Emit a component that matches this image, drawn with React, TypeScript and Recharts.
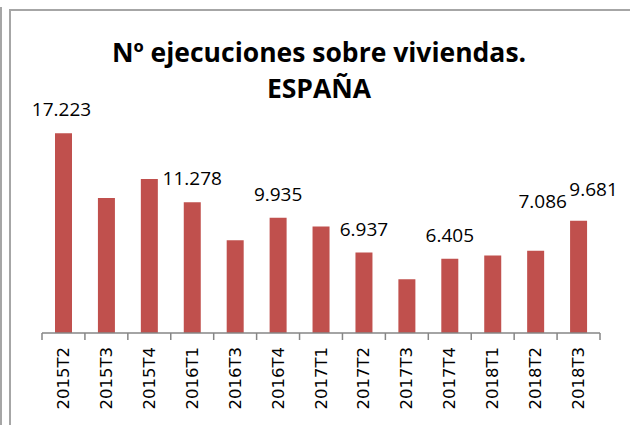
import { BarChart, Bar, XAxis, YAxis, LabelList } from "recharts";

const CATEGORIES = [
  "2015T2", "2015T3", "2015T4", "2016T1", "2016T3", "2016T4", "2017T1",
  "2017T2", "2017T3", "2017T4", "2018T1", "2018T2", "2018T3",
];
const VALUES = [17223, 11640, 13270, 11278, 8000, 9935, 9190, 6937, 4630, 6405, 6690, 7086, 9681];
// only some bars carry a data label in the original
const LABELS = [17223, null, null, 11278, null, 9935, null, 6937, null, 6405, null, 7086, 9681];
const Y_DOMAIN = [0, 20000];

const data = CATEGORIES.map((c, i) => ({ cat: c, value: VALUES[i], label: LABELS[i] }));

// labels that were dragged away from their default spot
const LABEL_SHIFT: Record<string, { dx: number; dy: number }> = {
  "2015T2": { dx: -2, dy: 0 },
  "2018T2": { dx: 7, dy: -26 },
  "2018T3": { dx: 15, dy: -8 },
};

const W = 630;
const H = 425;
const M = { top: 101, right: 30, left: 42, bottom: 0 };
const BAND = (W - M.left - M.right) / CATEGORIES.length;
const RED = "#c0504d";
const AXIS = "#868686";
const FONT = "'Open Sans', 'Noto Sans', sans-serif";

const fmt = (v: number) => String(v).replace(/\B(?=(\d{3})+(?!\d))/g, ".");

function BarLabel(props: any) {
  const { x, y, width, value, index } = props;
  if (value == null) return null;
  const s = LABEL_SHIFT[CATEGORIES[index]] || { dx: 0, dy: 0 };
  return (
    <text
      x={x + width / 2 + s.dx}
      y={y - 24 + s.dy}
      textAnchor="middle"
      dominantBaseline="central"
      fill="#000"
      style={{ fontFamily: FONT, fontSize: 19 }}
    >
      {fmt(value)}
    </text>
  );
}

function CatTick(props: any) {
  const { x, y, payload, index } = props;
  const last = index === CATEGORIES.length - 1;
  return (
    <g transform={`translate(${x},${y})`}>
      <line x1={-BAND / 2} y1={0} x2={-BAND / 2} y2={7} stroke={AXIS} strokeWidth={1.5} />
      {last && <line x1={BAND / 2} y1={0} x2={BAND / 2} y2={7} stroke={AXIS} strokeWidth={1.5} />}
      <text
        transform="rotate(-90)"
        x={-14}
        y={0}
        textAnchor="end"
        dominantBaseline="central"
        fill="#000"
        style={{ fontFamily: "'DejaVu Sans', Verdana, sans-serif", fontSize: 16.5 }}
      >
        {payload.value}
      </text>
    </g>
  );
}

export default function App() {
  return (
    <div
      style={{
        position: "fixed",
        left: 0,
        top: 0,
        width: W,
        height: H,
        overflow: "hidden",
        background: "#fff",
      }}
    >
      <div style={{ position: "absolute", left: 0, top: 7, width: 1.5, height: H, background: "#a6a6a6" }} />
      <div
        style={{
          position: "absolute",
          left: 9,
          top: 9,
          width: W + 20,
          height: H + 20,
          border: "2px solid #a6a6a6",
        }}
      />
      <div
        style={{
          position: "absolute",
          left: 0,
          top: 34,
          width: 638,
          textAlign: "center",
          fontFamily: FONT,
          fontWeight: 700,
          fontSize: 26.5,
          lineHeight: "36px",
          color: "#000",
        }}
      >
        Nº ejecuciones sobre viviendas.
        <br />
        ESPAÑA
      </div>
      <div style={{ position: "absolute", left: 0, top: 0 }}>
        <BarChart width={W} height={H} data={data} margin={M} barSize={17}>
          <YAxis hide domain={Y_DOMAIN} />
          <XAxis
            dataKey="cat"
            interval={0}
            height={92}
            tickSize={0}
            tickMargin={0}
            tickLine={false}
            axisLine={{ stroke: AXIS, strokeWidth: 1.5 }}
            tick={<CatTick />}
          />
          <Bar dataKey="value" fill={RED} isAnimationActive={false}>
            <LabelList dataKey="label" content={<BarLabel />} />
          </Bar>
        </BarChart>
      </div>
    </div>
  );
}
